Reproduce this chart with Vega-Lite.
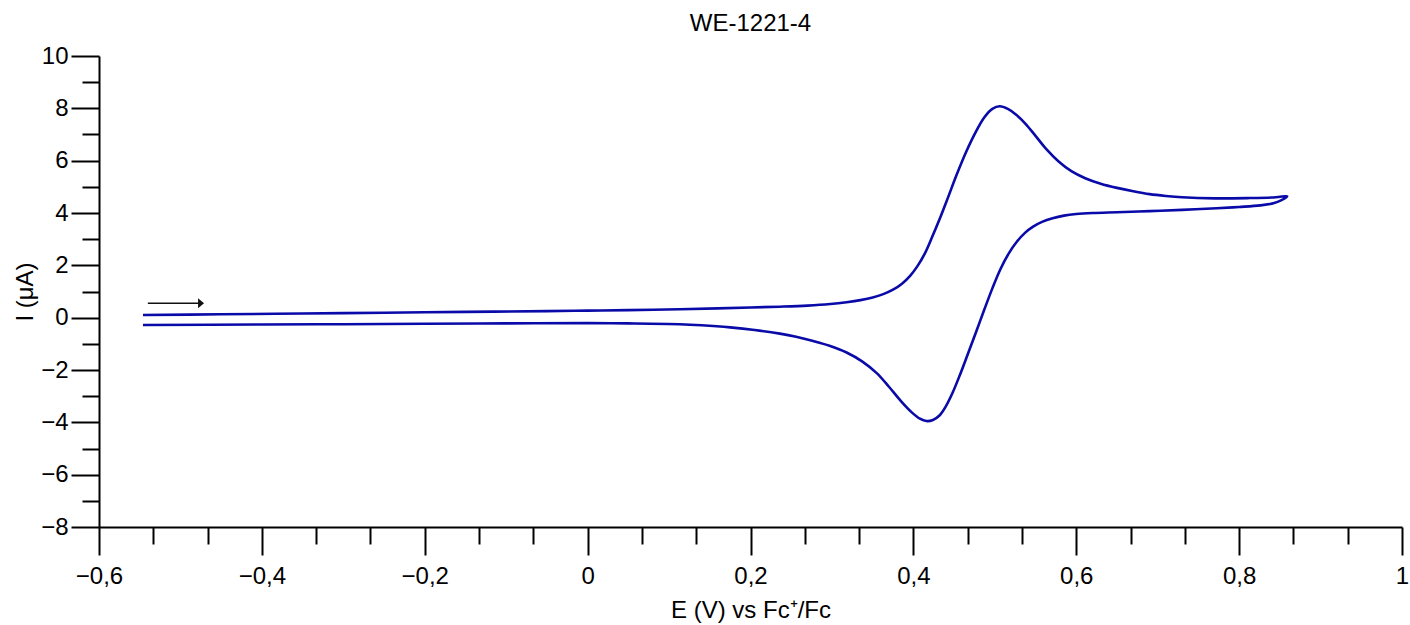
{
  "$schema": "https://vega.github.io/schema/vega-lite/v6.json",
  "width": 1303,
  "height": 471,
  "autosize": "none",
  "padding": {"left": 99, "top": 56, "right": 8, "bottom": 98},
  "background": "white",
  "title": {"text": "WE-1221-4", "font": "Liberation Sans", "fontSize": 24, "fontWeight": "normal", "color": "#000000", "offset": 8, "anchor": "middle"},
  "config": {
    "view": {"stroke": null},
    "axis": {
      "labelFont": "Liberation Sans", "labelFontSize": 24, "labelColor": "#000000",
      "titleFont": "Liberation Sans", "titleFontSize": 24, "titleFontWeight": "normal", "titleColor": "#000000",
      "domainColor": "#000000", "domainWidth": 2, "tickColor": "#000000", "tickWidth": 2, "grid": false
    }
  },
  "datasets": {
    "cv": [
      {"i": 1, "E": -0.546, "I": 0.10},
      {"i": 2, "E": -0.45, "I": 0.13},
      {"i": 3, "E": -0.35, "I": 0.16},
      {"i": 4, "E": -0.25, "I": 0.19},
      {"i": 5, "E": -0.15, "I": 0.22},
      {"i": 6, "E": -0.05, "I": 0.25},
      {"i": 7, "E": 0.0, "I": 0.27},
      {"i": 8, "E": 0.05, "I": 0.29},
      {"i": 9, "E": 0.113, "I": 0.32},
      {"i": 10, "E": 0.16, "I": 0.355},
      {"i": 11, "E": 0.2, "I": 0.39},
      {"i": 12, "E": 0.236, "I": 0.42},
      {"i": 13, "E": 0.27, "I": 0.46},
      {"i": 14, "E": 0.298, "I": 0.52},
      {"i": 15, "E": 0.318, "I": 0.59},
      {"i": 16, "E": 0.335, "I": 0.67},
      {"i": 17, "E": 0.35, "I": 0.77},
      {"i": 18, "E": 0.363, "I": 0.90},
      {"i": 19, "E": 0.375, "I": 1.07},
      {"i": 20, "E": 0.386, "I": 1.30},
      {"i": 21, "E": 0.396, "I": 1.60},
      {"i": 22, "E": 0.405, "I": 1.97},
      {"i": 23, "E": 0.414, "I": 2.45},
      {"i": 24, "E": 0.423, "I": 3.08},
      {"i": 25, "E": 0.432, "I": 3.75},
      {"i": 26, "E": 0.442, "I": 4.55},
      {"i": 27, "E": 0.453, "I": 5.45},
      {"i": 28, "E": 0.465, "I": 6.35},
      {"i": 29, "E": 0.477, "I": 7.12},
      {"i": 30, "E": 0.487, "I": 7.65},
      {"i": 31, "E": 0.497, "I": 7.98},
      {"i": 32, "E": 0.506, "I": 8.08},
      {"i": 33, "E": 0.516, "I": 7.98},
      {"i": 34, "E": 0.527, "I": 7.74},
      {"i": 35, "E": 0.538, "I": 7.40},
      {"i": 36, "E": 0.55, "I": 6.95},
      {"i": 37, "E": 0.563, "I": 6.45},
      {"i": 38, "E": 0.578, "I": 5.98},
      {"i": 39, "E": 0.594, "I": 5.60},
      {"i": 40, "E": 0.611, "I": 5.33},
      {"i": 41, "E": 0.63, "I": 5.12},
      {"i": 42, "E": 0.65, "I": 4.96},
      {"i": 43, "E": 0.67, "I": 4.83},
      {"i": 44, "E": 0.69, "I": 4.72},
      {"i": 45, "E": 0.71, "I": 4.65},
      {"i": 46, "E": 0.73, "I": 4.60},
      {"i": 47, "E": 0.77, "I": 4.56},
      {"i": 48, "E": 0.81, "I": 4.57},
      {"i": 49, "E": 0.845, "I": 4.60},
      {"i": 50, "E": 0.859, "I": 4.64},
      {"i": 51, "E": 0.852, "I": 4.49},
      {"i": 52, "E": 0.842, "I": 4.37},
      {"i": 53, "E": 0.826, "I": 4.29},
      {"i": 54, "E": 0.80, "I": 4.23},
      {"i": 55, "E": 0.7725, "I": 4.18},
      {"i": 56, "E": 0.73, "I": 4.12},
      {"i": 57, "E": 0.69, "I": 4.07},
      {"i": 58, "E": 0.65, "I": 4.03},
      {"i": 59, "E": 0.62, "I": 4.00},
      {"i": 60, "E": 0.60, "I": 3.96},
      {"i": 61, "E": 0.585, "I": 3.90},
      {"i": 62, "E": 0.571, "I": 3.80},
      {"i": 63, "E": 0.558, "I": 3.66},
      {"i": 64, "E": 0.547, "I": 3.48},
      {"i": 65, "E": 0.537, "I": 3.24},
      {"i": 66, "E": 0.527, "I": 2.90},
      {"i": 67, "E": 0.517, "I": 2.45},
      {"i": 68, "E": 0.507, "I": 1.86},
      {"i": 69, "E": 0.497, "I": 1.12},
      {"i": 70, "E": 0.487, "I": 0.30},
      {"i": 71, "E": 0.477, "I": -0.55},
      {"i": 72, "E": 0.467, "I": -1.38},
      {"i": 73, "E": 0.457, "I": -2.20},
      {"i": 74, "E": 0.448, "I": -2.88},
      {"i": 75, "E": 0.440, "I": -3.38},
      {"i": 76, "E": 0.432, "I": -3.74},
      {"i": 77, "E": 0.424, "I": -3.91},
      {"i": 78, "E": 0.416, "I": -3.95},
      {"i": 79, "E": 0.408, "I": -3.86},
      {"i": 80, "E": 0.398, "I": -3.62},
      {"i": 81, "E": 0.385, "I": -3.20},
      {"i": 82, "E": 0.370, "I": -2.64},
      {"i": 83, "E": 0.355, "I": -2.12},
      {"i": 84, "E": 0.337, "I": -1.67},
      {"i": 85, "E": 0.318, "I": -1.33},
      {"i": 86, "E": 0.297, "I": -1.07},
      {"i": 87, "E": 0.277, "I": -0.89},
      {"i": 88, "E": 0.256, "I": -0.73},
      {"i": 89, "E": 0.236, "I": -0.61},
      {"i": 90, "E": 0.205, "I": -0.47},
      {"i": 91, "E": 0.175, "I": -0.37},
      {"i": 92, "E": 0.14, "I": -0.29},
      {"i": 93, "E": 0.113, "I": -0.25},
      {"i": 94, "E": 0.05, "I": -0.22},
      {"i": 95, "E": 0.0, "I": -0.21},
      {"i": 96, "E": -0.1, "I": -0.22},
      {"i": 97, "E": -0.2, "I": -0.23},
      {"i": 98, "E": -0.3, "I": -0.25},
      {"i": 99, "E": -0.4, "I": -0.26},
      {"i": 100, "E": -0.546, "I": -0.28}
    ],
    "arrow": [
      {"E": -0.540, "I": 0.55},
      {"E": -0.477, "I": 0.55}
    ],
    "head": [
      {"E": -0.4747, "I": 0.55}
    ]
  },
  "layer": [
    {
      "data": {"name": "cv"},
      "mark": {"type": "line", "interpolate": "catmull-rom", "color": "#0A0AA8", "strokeWidth": 2.6},
      "encoding": {
        "x": {"field": "E", "type": "quantitative", "scale": {"domain": [-0.6, 1], "nice": false, "zero": false},
          "axis": {"orient": "bottom", "title": "E (V) vs Fc⁺/Fc", "values": [-0.6, -0.4, -0.2, 0, 0.2, 0.4, 0.6, 0.8, 1],
            "tickSize": 28, "labelPadding": 9, "titlePadding": 10,
            "labelExpr": "replace(format(datum.value, '.1~f'), '.', ',')", "labelFlush": false, "labelOverlap": false}},
        "y": {"field": "I", "type": "quantitative", "scale": {"domain": [-8, 10], "nice": false, "zero": false},
          "axis": {"orient": "left", "title": "I (μA)", "values": [-8, -6, -4, -2, 0, 2, 4, 6, 8, 10],
            "tickSize": 28, "labelPadding": 3, "titlePadding": 3, "format": "d", "labelFlush": false, "labelOverlap": false}},
        "order": {"field": "i", "type": "quantitative"}
      }
    },
    {
      "data": {"name": "arrow"},
      "mark": {"type": "line", "color": "#111111", "strokeWidth": 1.5},
      "encoding": {
        "x": {"field": "E", "type": "quantitative", "scale": {"domain": [-0.6, 1], "nice": false, "zero": false},
          "axis": {"orient": "bottom", "title": null, "labels": false, "domain": false, "tickSize": 17,
            "values": [-0.5333333, -0.4666667, -0.3333333, -0.2666667, -0.1333333, -0.0666667, 0.0666667, 0.1333333, 0.2666667, 0.3333333, 0.4666667, 0.5333333, 0.6666667, 0.7333333, 0.8666667, 0.9333333]}},
        "y": {"field": "I", "type": "quantitative", "scale": {"domain": [-8, 10], "nice": false, "zero": false},
          "axis": {"orient": "left", "title": null, "labels": false, "domain": false, "tickSize": 17,
            "values": [-7, -5, -3, -1, 1, 3, 5, 7, 9]}}
      }
    },
    {
      "data": {"name": "head"},
      "mark": {"type": "point", "shape": "M -0.6,-1 L 0.6,0 L -0.6,1 Z", "filled": true, "color": "#111111", "size": 100, "opacity": 1},
      "encoding": {
        "x": {"field": "E", "type": "quantitative", "scale": {"domain": [-0.6, 1], "nice": false, "zero": false}, "axis": null},
        "y": {"field": "I", "type": "quantitative", "scale": {"domain": [-8, 10], "nice": false, "zero": false}, "axis": null}
      }
    }
  ],
  "resolve": {"axis": {"x": "independent", "y": "independent"}}
}
